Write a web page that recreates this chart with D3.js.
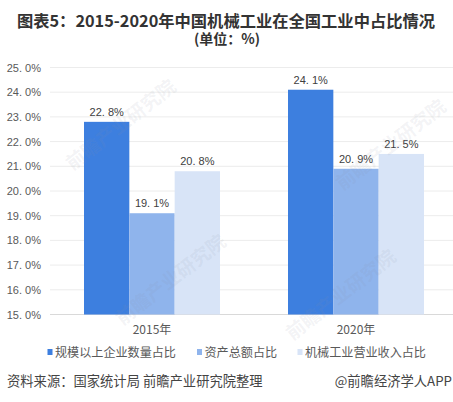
<!DOCTYPE html>
<html><head><meta charset="utf-8">
<script src="https://cdn.jsdelivr.net/npm/d3@7/dist/d3.min.js"></script>
<style>html,body{margin:0;padding:0;background:#fff;overflow:hidden}text{font-family:"Noto Sans CJK SC",sans-serif}</style>
</head><body><div id="c"></div>
<script>
const categories=["2015年","2020年"];
const seriesNames=["规模以上企业数量占比","资产总额占比","机械工业营业收入占比"];
const seriesA=[22.8,24.1];
const seriesB=[19.1,20.9];
const seriesC=[20.8,21.5];
const allSeries=[seriesA,seriesB,seriesC];
const colors=["#3d7fdf","#8fb4ec","#d8e4f7"];
const yTicks=[15,16,17,18,19,20,21,22,23,24,25];
const W=453,H=402;
const pct=d=>d3.format(".1f")(d).replace(".",". ")+"%";
const svg=d3.select("#c").append("svg").attr("width",W).attr("height",H);
const x0=d3.scaleBand().domain(categories).range([50,458]);
const x1=d3.scaleBand().domain(d3.range(3)).range([34,170]);
const y=d3.scaleLinear().domain([15,25]).range([314.5,67.5]);

svg.append("g").selectAll("line").data(yTicks).join("line")
  .attr("x1",50).attr("x2",W).attr("y1",d=>y(d)).attr("y2",d=>y(d))
  .attr("stroke",d=>d===15?"#d9d9d9":"#ececec").attr("stroke-width",1);
svg.append("g").selectAll("text").data(yTicks).join("text")
  .attr("x",41).attr("y",d=>y(d)+4).attr("text-anchor","end").attr("font-size",11).attr("fill","#595959")
  .style("font-family","'Liberation Sans'").style("white-space","pre").text(d=>pct(d));

allSeries.forEach((vals,i)=>{
  const g=svg.append("g");
  g.selectAll("rect").data(vals).join("rect")
    .attr("x",(d,j)=>x0(categories[j])+x1(i)).attr("width",x1.bandwidth())
    .attr("y",d=>y(d)).attr("height",d=>y(15)-y(d)).attr("fill",colors[i]);
  g.selectAll("text").data(vals).join("text")
    .attr("x",(d,j)=>x0(categories[j])+x1(i)+x1.bandwidth()/2).attr("y",d=>y(d)-6)
    .attr("text-anchor","middle").attr("font-size",11).attr("fill","#404040")
    .style("font-family","'Liberation Sans'").style("white-space","pre").text(d=>pct(d));
});

// watermark
const wm=[[125,130],[175,285],[395,150],[345,300]];
wm.forEach(p=>{
  svg.append("text").attr("transform",`translate(${p[0]},${p[1]}) rotate(-38)`).attr("text-anchor","middle")
   .attr("font-size",19).attr("font-weight",700).attr("fill","#8a93a3").attr("fill-opacity",.11).text("前瞻产业研究院");
});

svg.append("g").selectAll("text").data(categories).join("text")
  .attr("x",d=>x0(d)+x0.bandwidth()/2).attr("y",334).attr("text-anchor","middle")
  .attr("font-size",12).attr("fill","#595959").text(d=>d);

// legend
const lx=[47.5,197,297.5];
seriesNames.forEach((n,i)=>{
  svg.append("rect").attr("x",lx[i]).attr("y",349).attr("width",5).attr("height",6).attr("fill",colors[i]);
  svg.append("text").attr("x",lx[i]+7.5).attr("y",356.5).attr("font-size",12.1).attr("fill","#595959").text(n);
});

svg.append("text").attr("x",226).attr("y",27).attr("text-anchor","middle").attr("font-size",16.3).attr("font-weight",700)
  .attr("fill","#333").style("font-family","'Noto Sans CJK SC'").text("图表5：2015-2020年中国机械工业在全国工业中占比情况");
svg.append("text").attr("x",227).attr("y",44).attr("text-anchor","middle").attr("font-size",14).attr("font-weight",700)
  .attr("fill","#333").text("(单位：%)");
svg.append("text").attr("x",7).attr("y",386).attr("font-size",13.3).attr("fill","#444").text("资料来源：国家统计局 前瞻产业研究院整理");
svg.append("text").attr("x",452).attr("y",386).attr("text-anchor","end").attr("font-size",13.3).attr("fill","#444").text("@前瞻经济学人APP");
</script></body></html>
